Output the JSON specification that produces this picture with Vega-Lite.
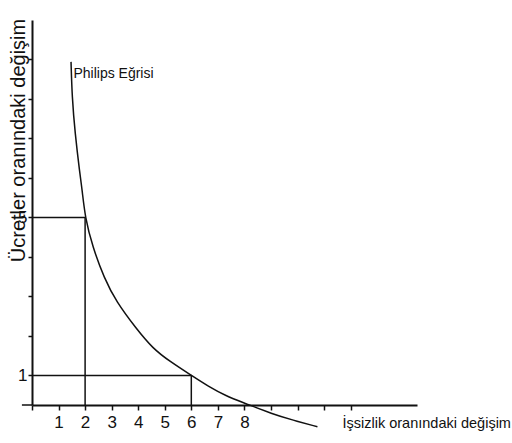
{
  "$schema": "https://vega.github.io/schema/vega-lite/v6.json",
  "autosize": {"type": "none"},
  "width": 385,
  "height": 385,
  "padding": {"left": 32, "top": 20, "right": 95, "bottom": 38},
  "background": "white",
  "config": {"view": {"stroke": null}, "font": "Liberation Sans", "axis": {"labelOverlap": false, "labelBound": false, "labelFlush": false}},
  "datasets": {
    "curve": [
      {"x": 1.47, "y": 8.94}, {"x": 1.51, "y": 8.05}, {"x": 1.62, "y": 7.14}, {"x": 1.8, "y": 6.12},
      {"x": 1.89, "y": 5.69}, {"x": 2.0, "y": 5.0}, {"x": 2.28, "y": 4.26}, {"x": 2.72, "y": 3.46},
      {"x": 3.17, "y": 2.87}, {"x": 3.92, "y": 2.19}, {"x": 4.55, "y": 1.68}, {"x": 5.2, "y": 1.35},
      {"x": 6.0, "y": 1.0}, {"x": 6.64, "y": 0.72}, {"x": 7.3, "y": 0.48}, {"x": 8.0, "y": 0.3},
      {"x": 9.06, "y": 0.02}, {"x": 9.81, "y": -0.13}, {"x": 10.75, "y": -0.3}
    ],
    "guides": [
      {"x": 0, "y": 5, "x2": 2, "y2": 5},
      {"x": 2, "y": 5, "x2": 2, "y2": 0.25},
      {"x": 0, "y": 1, "x2": 6, "y2": 1},
      {"x": 6, "y": 1, "x2": 6, "y2": 0.25},
      {"x": -0.38, "y": 0.25, "x2": 0, "y2": 0.25}
    ],
    "labels": [{"x": 1.56, "y": 8.63, "label": "Philips Eğrisi"}]
  },
  "encoding": {
    "x": {"field": "x", "type": "quantitative", "scale": {"domain": [0, 14.5], "nice": false, "zero": false},
      "axis": {
        "values": [0, 1, 2, 3, 4, 5, 6, 7, 8, 9, 10, 11, 12],
        "labelExpr": "datum.value >= 1 && datum.value <= 8 ? datum.label : ''",
        "labelOverlap": false,
        "grid": false, "domainColor": "#111", "domainWidth": 2, "tickColor": "#111", "tickWidth": 1.5, "tickSize": 5,
        "labelFontSize": 17, "labelColor": "#111", "labelPadding": 4, "labelFont": "Liberation Sans",
        "title": "İşsizlik oranındaki değişim", "titleFont": "Liberation Sans", "titleFontSize": 14.5, "titleFontWeight": "normal",
        "titleColor": "#111", "titleAlign": "left", "titleAnchor": null, "titleX": 310, "titleY": 18, "titleBaseline": "middle"
      }},
    "y": {"field": "y", "type": "quantitative", "scale": {"domain": [0.25, 10], "nice": false, "zero": false},
      "axis": {
        "values": [1, 2, 3, 4, 5, 6, 7, 8, 9],
        "labelExpr": "datum.value == 1 || datum.value == 5 ? datum.label : ''",
        "labelOverlap": false,
        "grid": false, "domainColor": "#111", "domainWidth": 2, "tickColor": "#111", "tickWidth": 1.5, "tickSize": 4,
        "labelFontSize": 17, "labelColor": "#111", "labelPadding": 1, "labelFont": "Liberation Sans",
        "title": "Ücretler oranındaki değişim", "titleFont": "Liberation Sans", "titleFontSize": 20, "titleFontWeight": "normal",
        "titleColor": "#111", "titleAngle": -90, "titleAlign": "center", "titleAnchor": null, "titleX": -14, "titleY": 120, "titleBaseline": "middle"
      }}
  },
  "layer": [
    {
      "data": {"name": "guides"},
      "mark": {"type": "rule", "color": "#111", "strokeWidth": 1.5, "clip": false},
      "encoding": {
        "x2": {"field": "x2"},
        "y2": {"field": "y2"}
      }
    },
    {
      "data": {"name": "curve"},
      "mark": {"type": "line", "color": "#111", "strokeWidth": 1.5, "interpolate": "basis", "clip": false}
    },
    {
      "data": {"name": "labels"},
      "mark": {"type": "text", "align": "left", "baseline": "middle", "fontSize": 14, "font": "Liberation Sans", "color": "#111"},
      "encoding": {
        "text": {"field": "label"}
      }
    }
  ]
}
